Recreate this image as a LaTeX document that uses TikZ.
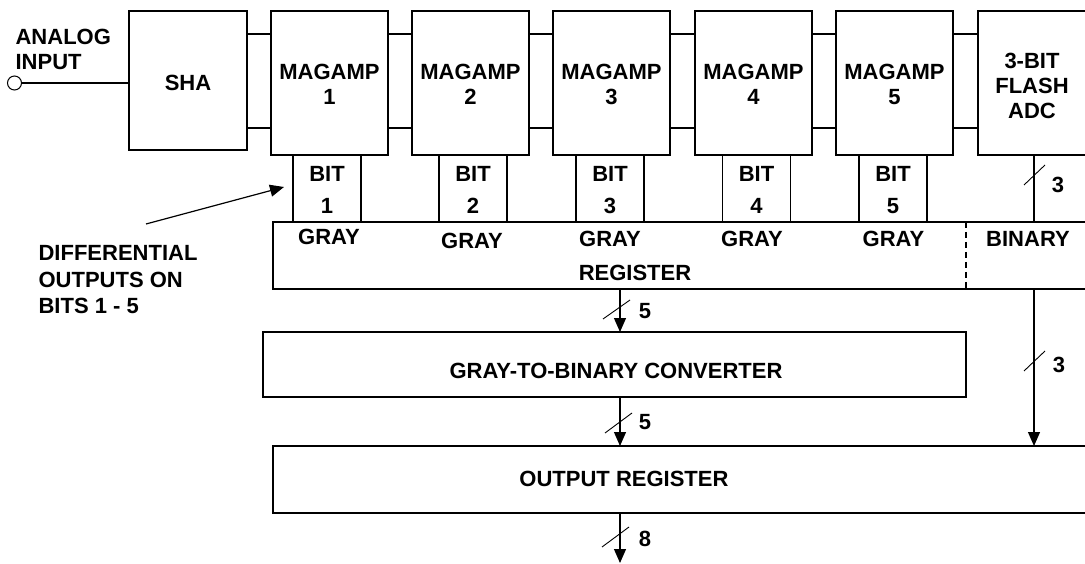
\documentclass[tikz,border=0pt]{standalone}
\usepackage{fontspec}
\setmainfont{Liberation Sans}
\usetikzlibrary{arrows.meta,calc}
\newcommand\dgfont{\fontsize{22}{25}\selectfont\bfseries}
\begin{document}
\begin{tikzpicture}[x=1pt,y=-1pt,line width=1.2pt,
  blk/.style={draw,rectangle,inner sep=0pt,outer sep=0pt},
  txt/.style={inner sep=0pt,align=center,font=\dgfont},
  ltxt/.style={inner sep=0pt,align=left,font=\dgfont,anchor=west},
  arr/.style={-{Triangle[length=14pt,width=12pt]}},
  busmark/.style={line width=0.9pt}]
\useasboundingbox (0,0) rectangle (1085,564);
\clip (0,0) rectangle (1085,564);
% analog input
\node[draw,circle,minimum size=14pt,inner sep=0pt,line width=1pt,fill=white] (in) at (14.5,83) {};
\node[ltxt] (ain) at (15,49) {ANALOG\\INPUT};
% SHA and stages
\node[blk,minimum width=118,minimum height=139] (sha) at (188,80.5) {};
\node[txt] (shat) at (188,83) {SHA};
\foreach \n/\x in {1/329.5,2/470.5,3/611.5,4/753.5,5/894.5}{
  \node[blk,minimum width=117,minimum height=144] (m\n) at (\x,83) {};
  \node[txt] (mt\n) at (\x,84) {MAGAMP\\\n};
}
\node[blk,minimum width=114,minimum height=144] (adc) at (1035,83) {};
\node[txt] (adct) at (1032,86) {3-BIT\\FLASH\\ADC};
% input line
\draw (in.east) -- (in.east -| sha.west);
% stage interconnects
\foreach \a/\b in {sha/m1,m1/m2,m2/m3,m3/m4,m4/m5,m5/adc}{
  \draw (\a.east |- 0,34) -- (\b.west |- 0,34);
  \draw (\a.east |- 0,128) -- (\b.west |- 0,128);
}
% register
\node[blk,minimum width=819,minimum height=67] (reg) at (682.5,255.5) {};
% bit boxes
\foreach \n/\x in {1/327,2/473,3/610,4/756.5,5/893}{
  \node[blk,minimum width=68,minimum height=67] (b\n) at (\x,188.5) {};
  \node[txt,font=\fontsize{22}{31.5}\selectfont\bfseries] (bt\n) at (\x,190) {BIT\\\n};
}
\foreach \n/\x/\y in {1/329/237,2/472/241,3/610/239,4/752/239,5/893.5/238.5}{
  \node[txt] (g\n) at (\x,\y) {GRAY};
}
\node[txt] (bin) at (1028,238.5) {BINARY};
\node[txt] (regt) at (635,273) {REGISTER};
\coordinate (dsh) at (966,0);
\draw[dashed,dash pattern=on 6pt off 4pt] (reg.north -| dsh) -- (reg.south -| dsh);
% ADC bus
\coordinate (cb) at (1034,0);
\draw (adc.south -| cb) -- (reg.north -| cb);
\draw[busmark] (1024,185) -- (1045,165);
\node[txt] (l3a) at (1058,185) {3};
% converter
\node[blk,minimum width=703,minimum height=65] (conv) at (614.5,364.5) {};
\node[txt] (convt) at (616,371) {GRAY-TO-BINARY CONVERTER};
% output register
\node[blk,minimum width=819,minimum height=67] (out) at (682.5,479.5) {};
\node[txt] (outt) at (624,479) {OUTPUT REGISTER};
\coordinate (cg) at (620,0);
\coordinate (bot) at (620,563);
\draw[arr] (reg.south -| cg) -- (conv.north -| cg);
\draw[busmark] (603,319) -- (630,300);
\node[txt] (l5a) at (645,311) {5};
\draw[arr] (conv.south -| cg) -- (out.north -| cg);
\draw[busmark] (605,433) -- (632,413);
\node[txt] (l5b) at (645,422) {5};
\draw[arr] (reg.south -| cb) -- (out.north -| cb);
\draw[busmark] (1024,371) -- (1045,351);
\node[txt] (l3b) at (1059,365) {3};
\draw[arr] (out.south -| cg) -- (bot);
\draw[busmark] (602,547) -- (629,527);
\node[txt] (l8) at (645,539) {8};
% differential outputs note
\node[ltxt] (diff) at (38,280) {DIFFERENTIAL\\[1.5pt]OUTPUTS ON\\[1.5pt]BITS 1 - 5};
\coordinate (dtail) at (146,224);
\draw[arr] (dtail) -- (284,187);
\end{tikzpicture}
\end{document}
